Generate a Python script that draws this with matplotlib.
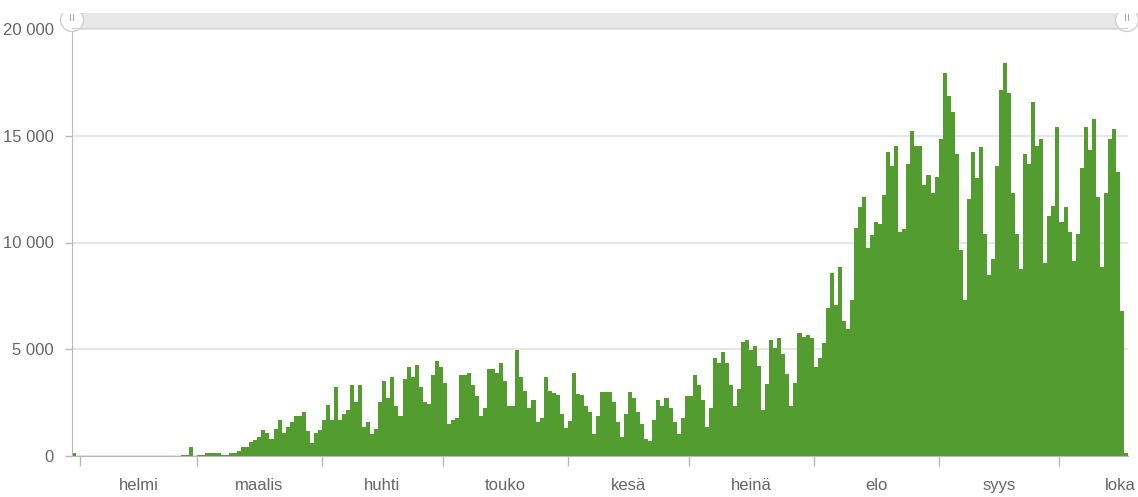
import datetime
import numpy as np
import pandas as pd
import matplotlib
matplotlib.use('Agg')
import matplotlib.pyplot as plt
import matplotlib.dates as mdates
from matplotlib.patches import Rectangle, Circle
from matplotlib.ticker import FuncFormatter

plt.rcParams['font.family'] = ['Liberation Sans', 'DejaVu Sans']

# daily values, one list per month (2020)
jan_vals = [120, 0]  # 30.1. - 31.1.
feb_vals = [0] * 25 + [30, 40, 420, 20]
mar_vals = [50, 60, 140, 140, 140, 140, 60, 30, 140, 140, 250, 420, 420, 640, 730,
            900, 1200, 1070, 790, 1270, 1680, 1070, 1350, 1580, 1880, 1880, 2070,
            1180, 620, 1090, 1200]
apr_vals = [1680, 2380, 1680, 3230, 1680, 1960, 2160, 3320, 2530, 3320, 1380, 1580,
            1010, 1270, 2530, 3510, 2730, 3700, 2360, 1880, 3600, 4180, 3700, 4270,
            3210, 2530, 2440, 3790, 4470, 4180]
may_vals = [3400, 1490, 1680, 1770, 3790, 3790, 3880, 3320, 2830, 1880, 2250, 4080,
            4080, 3880, 4360, 3510, 2360, 2360, 4950, 3700, 3030, 2250, 2640, 1580,
            1770, 3700, 3030, 2940, 2870, 1960, 1290]
jun_vals = [1660, 3880, 2920, 2840, 2360, 2050, 1010, 1860, 3010, 3010, 3010, 2530,
            1570, 900, 1960, 3010, 2730, 2050, 1490, 810, 710, 1680, 2640, 2360,
            2730, 2250, 1580, 1010, 1770, 2830]
jul_vals = [2830, 3790, 3320, 2640, 1380, 2250, 4570, 4360, 4850, 4360, 3320, 2360,
            3120, 5330, 5420, 4950, 5140, 4200, 2170, 3350, 5440, 5070, 5550, 4790,
            3820, 2360, 3430, 5740, 5580, 5650, 5550]
aug_vals = [4180, 4570, 5270, 6910, 8550, 7080, 8830, 6330, 5930, 7300, 10670, 11640,
            12140, 9720, 10370, 10950, 10860, 12230, 14240, 13570, 14520, 10480,
            10650, 13680, 15230, 14520, 14520, 12700, 13180, 12320, 13090]
sep_vals = [14840, 17940, 16880, 16100, 14150, 9630, 7320, 12030, 14260, 13020,
            14450, 10410, 8460, 9220, 13590, 17160, 18420, 16990, 12320, 10410, 8750,
            14150, 13680, 16580, 14540, 14840, 9050, 11260, 11730, 15410]
oct_vals = [10970, 11640, 10480, 9140, 10410, 13490, 15410, 14350, 15800, 12140, 8850,
            12320, 14840, 15320, 13290, 6800, 120]

month_names = ['helmi', 'maalis', 'huhti', 'touko', 'kesä', 'heinä', 'elo', 'syys', 'loka']
y_ticks = [0, 5000, 10000, 15000, 20000]

values = (jan_vals + feb_vals + mar_vals + apr_vals + may_vals + jun_vals +
          jul_vals + aug_vals + sep_vals + oct_vals)
dates = pd.date_range('2020-01-30', periods=len(values), freq='D')

green = '#529c30'
grey_txt = '#666666'
axis_col = '#b8b8b8'

W, H = 1138, 497
fig = plt.figure(figsize=(W / 100, H / 100), dpi=100)
ax = fig.add_axes([72 / W, 41 / H, (1128 - 72) / W, (456 - 29) / H])

ax.bar(dates, values, width=1.0, align='edge', color=green, linewidth=0, zorder=3)

ax.set_xlim(datetime.datetime(2020, 1, 30), datetime.datetime(2020, 10, 18))
ax.set_ylim(0, 20000)

# y axis
ax.set_yticks(y_ticks)
ax.yaxis.set_major_formatter(FuncFormatter(lambda v, p: '{:,.0f}'.format(v).replace(',', ' ')))
ax.grid(axis='y', color='#e6e6e6', linewidth=1.5, zorder=0)
ax.tick_params(axis='y', length=5, width=1, color=axis_col, labelsize=12,
               labelcolor=grey_txt, pad=8)

# x axis: tick marks at month starts, labels at mid-month
month_starts = pd.date_range('2020-02-01', '2020-11-01', freq='MS')
mids = []
for i in range(len(month_starts) - 1):
    s, e = month_starts[i], month_starts[i + 1]
    mids.append(s + (e - s) / 2)
mids[-1] = pd.Timestamp('2020-10-16')
ax.set_xticks(mdates.date2num(month_starts[:-1]), minor=True)
ax.set_xticks(mdates.date2num(mids))
ax.set_xticklabels(month_names)
ax.tick_params(axis='x', which='major', length=0, labelsize=12, labelcolor=grey_txt, pad=16)
ax.tick_params(axis='x', which='minor', length=7.5, width=1, color=axis_col)

for side in ['top', 'right']:
    ax.spines[side].set_visible(False)
ax.spines['left'].set_color(axis_col)
ax.spines['bottom'].set_color(axis_col)
ax.spines['left'].set_zorder(4)
ax.spines['bottom'].set_zorder(4)

# range navigator at the top
nav = fig.add_axes([0, 0, 1, 1], zorder=10)
nav.set_xlim(0, W)
nav.set_ylim(H, 0)
nav.axis('off')
nav.patch.set_alpha(0)
bar_rect = Rectangle((72, 13), 1127 - 72, 15, facecolor='#e8e8e8', edgecolor='none')
nav.add_patch(bar_rect)
nav.plot([72, 1127], [28, 28], color='#d4d4d4', linewidth=1)
clip = Rectangle((0, 13), W, 40, transform=nav.transData)
for cx in [72, 1127]:
    c = Circle((cx, 20), 11.5, facecolor='white', edgecolor='#cfcfcf', linewidth=1)
    nav.add_patch(c)
    c.set_clip_path(clip)
    nav.plot([cx - 1.5, cx - 1.5], [14, 20], color='#aaaaaa', linewidth=0.8)
    nav.plot([cx + 1.5, cx + 1.5], [14, 20], color='#aaaaaa', linewidth=0.8)

fig.savefig('out.png', dpi=100)
